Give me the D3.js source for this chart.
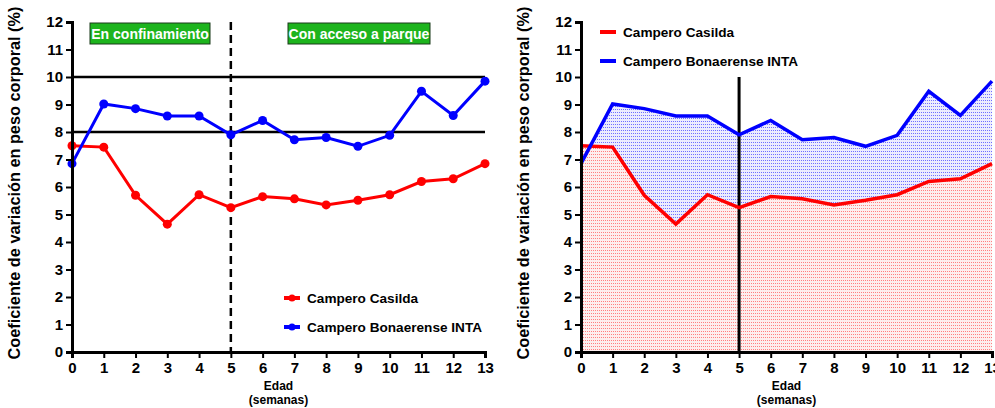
<!DOCTYPE html>
<html>
<head>
<meta charset="utf-8">
<script src="https://cdn.jsdelivr.net/npm/d3@7"></script>
<style>
  body { margin: 0; background: #fff; }
  svg { display: block; font-family: "Liberation Sans", Arial, sans-serif; }
  .tick text { font-weight: bold; font-size: 15px; fill: #000; }
</style>
</head>
<body>
<div id="chart"></div>
<script>
// data
var semanas = [0, 1, 2, 3, 4, 5, 6, 7, 8, 9, 10, 11, 12, 13];
var casilda = [7.5, 7.45, 5.7, 4.65, 5.72, 5.25, 5.65, 5.57, 5.35, 5.52, 5.72, 6.2, 6.3, 6.85];
var bonaerense = [6.85, 9.02, 8.85, 8.58, 8.58, 7.9, 8.42, 7.72, 7.8, 7.48, 7.88, 9.48, 8.6, 9.85];
var seriesNames = ["Campero Casilda", "Campero Bonaerense INTA"];
var seriesColors = ["#ff0000", "#0000ff"];
var refLines = [8, 10];
var phases = ["En confinamiento", "Con acceso a parque"];

var svg = d3.select("#chart").append("svg")
    .attr("width", 995)
    .attr("height", 408);

// dotted fill patterns for the right panel
var defs = svg.append("defs");
function dotPattern(id, bg, color) {
  var p = defs.append("pattern")
      .attr("id", id)
      .attr("width", 2).attr("height", 3)
      .attr("patternUnits", "userSpaceOnUse");
  p.append("rect").attr("width", 2).attr("height", 3).attr("fill", bg);
  p.append("rect").attr("width", 1).attr("height", 1).attr("fill", color);
}
dotPattern("dotsBlue", "#ececfe", "#7070ff");
dotPattern("dotsRed", "#fdeeee", "#ff8080");

function drawPanel(left, opts) {
  var width = opts.width, top = 22, height = 330;
  var g = svg.append("g").attr("transform", "translate(" + left + "," + top + ")");

  var x = d3.scaleLinear().domain([0, 13]).range([0, width]);
  var y = d3.scaleLinear().domain([0, 12]).range([height, 0]);

  var line = d3.line().x(function(d, i) { return x(semanas[i]); }).y(function(d) { return y(d); });

  if (opts.filled) {
    var area = d3.area()
        .x(function(d, i) { return x(semanas[i]); })
        .y0(y(0))
        .y1(function(d) { return y(d); });
    g.append("path").attr("d", area(bonaerense)).attr("fill", "url(#dotsBlue)");
    g.append("path").attr("d", area(casilda)).attr("fill", "url(#dotsRed)");
  }

  if (opts.refLines) {
    refLines.forEach(function(v) {
      g.append("line")
        .attr("x1", 0).attr("x2", width)
        .attr("y1", y(v)).attr("y2", y(v))
        .attr("stroke", "#000").attr("stroke-width", 2.5);
    });
  }

  // vertical divider at week 5
  g.append("line")
    .attr("x1", x(5)).attr("x2", x(5))
    .attr("y1", y(opts.dividerTop)).attr("y2", y(0))
    .attr("stroke", "#000")
    .attr("stroke-width", opts.dashed ? 2.5 : 3)
    .attr("stroke-dasharray", opts.dashed ? "8,5" : null);

  var data = [casilda, bonaerense];
  data.forEach(function(vals, k) {
    g.append("path")
      .attr("d", line(vals))
      .attr("fill", "none")
      .attr("stroke", seriesColors[k])
      .attr("stroke-width", opts.filled ? 3.5 : 3)
      .attr("stroke-linejoin", "miter");
    if (opts.markers) {
      g.selectAll(null).data(vals).enter().append("circle")
        .attr("cx", function(d, i) { return x(semanas[i]); })
        .attr("cy", function(d) { return y(d); })
        .attr("r", 4.5)
        .attr("fill", seriesColors[k]);
    }
  });

  // axes
  var yAxis = g.append("g").call(d3.axisLeft(y).ticks(12).tickSize(6).tickPadding(3));
  var xAxis = g.append("g").attr("transform", "translate(0," + height + ")")
      .call(d3.axisBottom(x).ticks(13).tickSize(6).tickPadding(4));
  [yAxis, xAxis].forEach(function(a) {
    a.select(".domain").attr("stroke", "#000").attr("stroke-width", 3);
    a.selectAll(".tick line").attr("stroke", "#000").attr("stroke-width", 2);
  });

  // axis titles
  g.append("text")
    .attr("transform", "translate(" + opts.yTitleX + "," + (height / 2 - 4) + ") rotate(-90)")
    .attr("text-anchor", "middle")
    .attr("font-weight", "bold").attr("font-size", 16.3)
    .text("Coeficiente de variación en peso corporal (%)");
  g.append("text")
    .attr("x", x(6.5)).attr("y", height + 38)
    .attr("text-anchor", "middle")
    .attr("font-weight", "bold").attr("font-size", 12)
    .text("Edad");
  g.append("text")
    .attr("x", x(6.5)).attr("y", height + 52)
    .attr("text-anchor", "middle")
    .attr("font-weight", "bold").attr("font-size", 12)
    .text("(semanas)");

  // legend
  var leg = g.append("g").attr("transform", "translate(" + opts.legend[0] + "," + opts.legend[1] + ")");
  seriesNames.forEach(function(name, k) {
    var row = leg.append("g").attr("transform", "translate(0," + (k * opts.legendGap) + ")");
    row.append("line")
      .attr("x1", 0).attr("x2", 16)
      .attr("stroke", seriesColors[k]).attr("stroke-width", 4);
    if (opts.markers) {
      row.append("circle").attr("cx", 8).attr("r", 3.5).attr("fill", seriesColors[k]);
    }
    row.append("text")
      .attr("x", opts.legendText).attr("dy", "0.35em")
      .attr("font-weight", "bold").attr("font-size", 13.6)
      .text(name);
  });

  // phase labels
  if (opts.phases) {
    var boxes = [[18, 120], [216, 142]];
    phases.forEach(function(p, i) {
      g.append("rect")
        .attr("x", boxes[i][0]).attr("y", 1)
        .attr("width", boxes[i][1]).attr("height", 21)
        .attr("fill", "#1db41d").attr("stroke", "#1a3a1a").attr("stroke-width", 1);
      g.append("text")
        .attr("x", boxes[i][0] + boxes[i][1] / 2).attr("y", 12)
        .attr("dy", "0.35em")
        .attr("text-anchor", "middle")
        .attr("fill", "#fff").attr("font-weight", "bold").attr("font-size", 14)
        .text(p);
    });
  }
}

drawPanel(72, {
  width: 413, dashed: true, dividerTop: 12, markers: true, refLines: true, phases: true,
  filled: false, yTitleX: -52, legend: [212, 276], legendGap: 29, legendText: 23
});

drawPanel(581, {
  width: 411, dashed: false, dividerTop: 10, markers: false, refLines: false, phases: false,
  filled: true, yTitleX: -52, legend: [19, 10], legendGap: 29, legendText: 23
});
</script>
</body>
</html>
